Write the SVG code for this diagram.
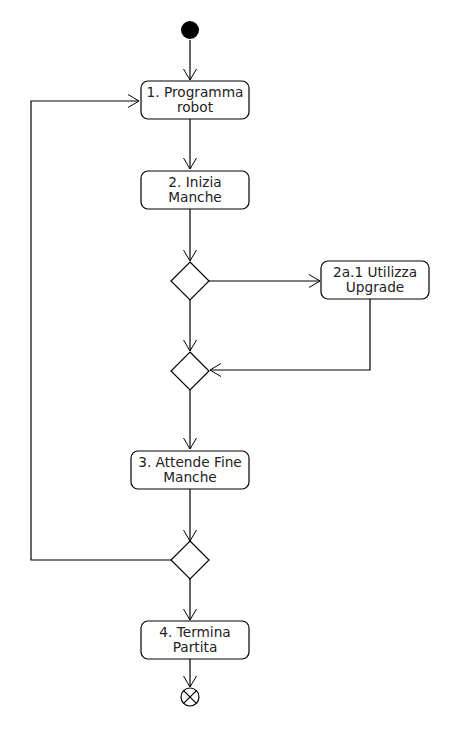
<svg xmlns="http://www.w3.org/2000/svg" width="450" height="730" viewBox="0 0 450 730">
<defs>
<marker id="arr" viewBox="0 0 12 14" refX="11" refY="7" markerWidth="12" markerHeight="14" markerUnits="userSpaceOnUse" orient="auto">
<path d="M0,0.5 L11,7 L0,13.5" fill="none" stroke="#000" stroke-width="1"/>
</marker>
<style>
.box{fill:#fff;stroke:#000;stroke-width:1.2}
.dia{fill:#fff;stroke:#000;stroke-width:1.2}
.lbl{font-family:"DejaVu Sans",sans-serif;font-size:13.7px;fill:#222;text-anchor:middle}
.edge{fill:none;stroke:#000;stroke-width:1.2;marker-end:url(#arr)}
</style>
</defs>
<rect width="450" height="730" fill="#fff"/>
<g id="connectors">
<path class="edge" d="M190,40 V80"/>
<path class="edge" d="M190,119 V169"/>
<path class="edge" d="M190,209 V261"/>
<path class="edge" d="M209,281 H320"/>
<path class="edge" d="M190,300 V351"/>
<path class="edge" d="M370,299 V370 H210"/>
<path class="edge" d="M190,390 V449"/>
<path class="edge" d="M190,489 V541"/>
<path class="edge" d="M171,560 H31 V101 H139"/>
<path class="edge" d="M190,579 V620"/>
<path class="edge" d="M190,659 V687"/>
</g>
<g id="start"><circle cx="190" cy="30" r="9" fill="#000"/></g>
<g id="n1"><rect class="box" x="141" y="81" width="108" height="38" rx="7"/><text class="lbl" x="195" y="97">1. Programma</text><text class="lbl" x="195" y="112">robot</text></g>
<g id="n2"><rect class="box" x="141" y="171" width="108" height="38" rx="7"/><text class="lbl" x="195" y="187">2. Inizia</text><text class="lbl" x="195" y="202">Manche</text></g>
<g id="d1"><polygon class="dia" points="190,262 209,281 190,300 171,281"/></g>
<g id="n2a"><rect class="box" x="321" y="261" width="108" height="38" rx="7"/><text class="lbl" x="375" y="277">2a.1 Utilizza</text><text class="lbl" x="375" y="292">Upgrade</text></g>
<g id="d2"><polygon class="dia" points="190,352 209,371 190,390 171,371"/></g>
<g id="n3"><rect class="box" x="131" y="451" width="118" height="38" rx="7"/><text class="lbl" x="190" y="467">3. Attende Fine</text><text class="lbl" x="190" y="482">Manche</text></g>
<g id="d3"><polygon class="dia" points="190,541 209,560 190,579 171,560"/></g>
<g id="n4"><rect class="box" x="141" y="621" width="108" height="38" rx="7"/><text class="lbl" x="195" y="637">4. Termina</text><text class="lbl" x="195" y="652">Partita</text></g>
<g id="end"><circle cx="190" cy="697" r="9" fill="#fff" stroke="#000" stroke-width="1.2"/><path d="M183.6,690.6 L196.4,703.4 M196.4,690.6 L183.6,703.4" stroke="#000" stroke-width="1.2"/></g>
</svg>
